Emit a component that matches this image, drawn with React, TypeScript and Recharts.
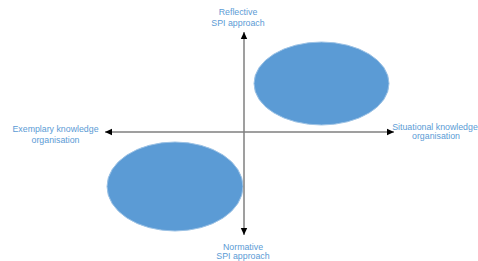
import { ScatterChart, XAxis, YAxis, ReferenceArea, ReferenceLine } from "recharts";

const WIDTH = 478;
const HEIGHT = 261;

// chart units, origin where the two axes cross
const X_DOMAIN = [-244, 234];
const Y_DOMAIN = [-129, 132];

const horizontalAxis = [
  { x: -139, y: 0 },
  { x: 150, y: 0 },
];
const verticalAxis = [
  { x: 0, y: -103 },
  { x: 0, y: 100 },
];

// boxes around each ellipse
const clusters = [
  { name: "reflective-situational", x1: 10, x2: 145, y1: 7, y2: 90 },
  { name: "normative-exemplary", x1: -137, x2: -1, y1: -99, y2: -10 },
];

const leftLabel = ["Exemplary knowledge", "organisation"];
const rightLabel = ["Situational knowledge", "organisation"];
const bottomLabel = ["Normative", "SPI approach"];
const topLabel = ["Reflective", "SPI approach"];

const BLUE = "#5B9BD5";
const FONT = "'Liberation Sans', Arial, sans-serif";

type LabelSpec = { lines: string[]; dx: number; dy: number; gap: number; lineDx?: number[] };

function arrowHead(tx: number, ty: number, fx: number, fy: number) {
  const len = Math.hypot(tx - fx, ty - fy) || 1;
  const ux = (tx - fx) / len;
  const uy = (ty - fy) / len;
  const l = 7;
  const w = 3.2;
  const bx = tx - ux * l;
  const by = ty - uy * l;
  const pts = [
    [tx, ty],
    [bx - uy * w, by + ux * w],
    [bx + uy * w, by - ux * w],
  ];
  return <polygon points={pts.map((p) => p.join(",")).join(" ")} fill="#000" />;
}

function labelText(x: number, y: number, spec: LabelSpec, key: string) {
  return (
    <text
      key={key}
      x={x + spec.dx}
      y={y + spec.dy}
      textAnchor="middle"
      fill={BLUE}
      fontFamily={FONT}
      fontSize={8.8}
    >
      {spec.lines.map((line, i) => (
        <tspan key={i} x={x + spec.dx + (spec.lineDx ? spec.lineDx[i] : 0)} dy={i === 0 ? 0 : spec.gap}>
          {line}
        </tspan>
      ))}
    </text>
  );
}

function makeArrow(startLabel: LabelSpec, endLabel: LabelSpec) {
  return (props: any) => {
    const { x1, y1, x2, y2 } = props;
    return (
      <g>
        <line x1={x1} y1={y1} x2={x2} y2={y2} stroke="#7F7F7F" strokeWidth={1.5} />
        {arrowHead(x1, y1, x2, y2)}
        {arrowHead(x2, y2, x1, y1)}
        {labelText(x1, y1, startLabel, "s")}
        {labelText(x2, y2, endLabel, "e")}
      </g>
    );
  };
}

const ellipseShape = (props: any) => {
  const { x, y, width, height } = props;
  return (
    <ellipse
      cx={x + width / 2}
      cy={y + height / 2}
      rx={Math.abs(width) / 2}
      ry={Math.abs(height) / 2}
      fill={BLUE}
      stroke="#9CC2E5"
      strokeWidth={1}
    />
  );
};

export default function App() {
  return (
    <div style={{ position: "absolute", left: 0, top: 0, background: "#fff" }}>
      <ScatterChart width={WIDTH} height={HEIGHT} margin={{ top: 0, right: 0, bottom: 0, left: 0 }}>
        <XAxis type="number" dataKey="x" domain={X_DOMAIN} hide allowDataOverflow />
        <YAxis type="number" dataKey="y" domain={Y_DOMAIN} hide allowDataOverflow />
        {clusters.map((c) => (
          <ReferenceArea
            key={c.name}
            x1={c.x1}
            x2={c.x2}
            y1={c.y1}
            y2={c.y2}
            ifOverflow="visible"
            shape={ellipseShape}
          />
        ))}
        <ReferenceLine
          segment={horizontalAxis}
          ifOverflow="visible"
          shape={makeArrow(
            { lines: leftLabel, dx: -49.5, dy: -0.5, gap: 11 },
            { lines: rightLabel, dx: 41, dy: -2.5, gap: 9.5, lineDx: [0, 1] }
          )}
        />
        <ReferenceLine
          segment={verticalAxis}
          ifOverflow="visible"
          shape={makeArrow(
            { lines: bottomLabel, dx: -1, dy: 14.5, gap: 9.5 },
            { lines: topLabel, dx: -6, dy: -17, gap: 11 }
          )}
        />
      </ScatterChart>
    </div>
  );
}
